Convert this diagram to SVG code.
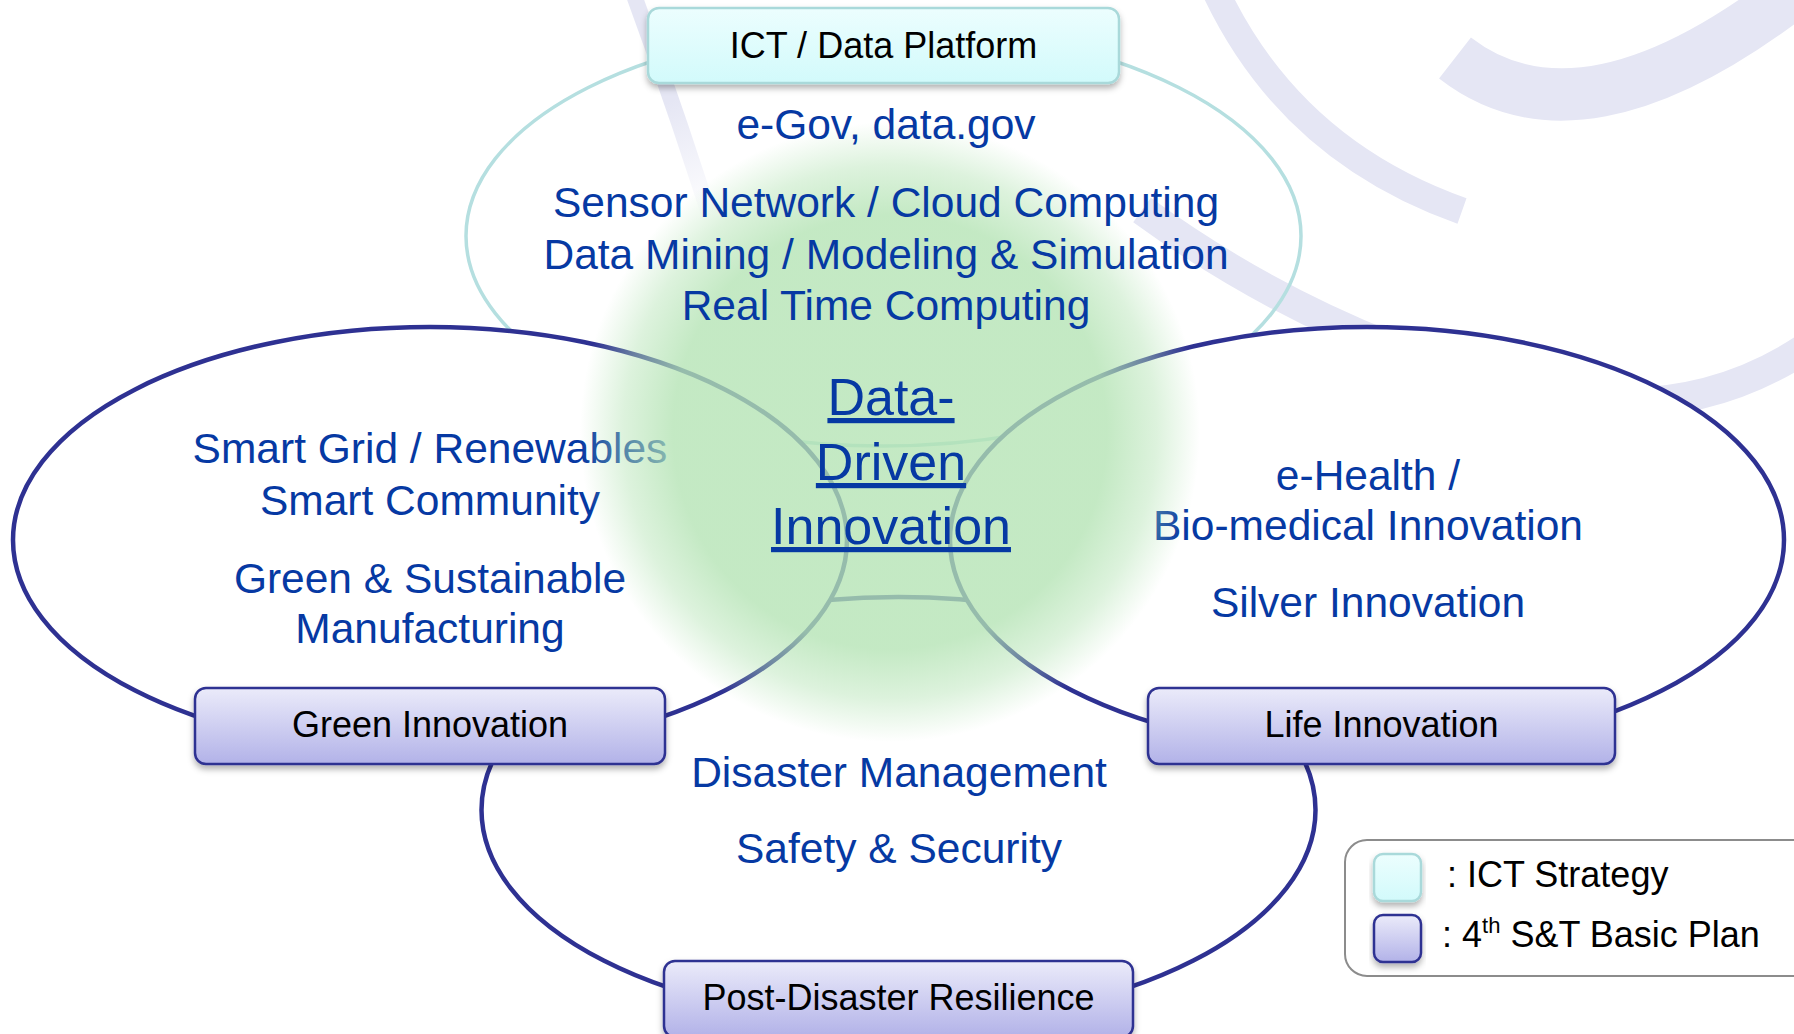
<svg xmlns="http://www.w3.org/2000/svg" width="1794" height="1034" viewBox="0 0 1794 1034">
<style>
.bg{fill:none;stroke:#e5e6f4;stroke-linecap:butt}
.ell{fill:#ffffff;stroke:#2e3192;stroke-width:4.5}
.ict{fill:none;stroke:#b5dfe0;stroke-width:3.5}
.t{font-family:"Liberation Sans",Arial,sans-serif;font-size:42.5px;fill:#0639a3;text-anchor:middle}
.lbl{font-family:"Liberation Sans",Arial,sans-serif;font-size:36px;fill:#000;text-anchor:middle}
.big{font-family:"Liberation Sans",Arial,sans-serif;font-size:52px;fill:#0639a3;text-anchor:middle;text-decoration:underline}
.leg{font-family:"Liberation Sans",Arial,sans-serif;font-size:36px;fill:#000}
.boxp{fill:url(#gp);stroke:#2e3192;stroke-width:2.5}
.boxc{fill:url(#gc);stroke:#a9d9da;stroke-width:2.5}
</style>
<defs>
<linearGradient id="gp" x1="0" y1="0" x2="0" y2="1">
<stop offset="0" stop-color="#ebebfa"/>
<stop offset="1" stop-color="#b2b2e8"/>
</linearGradient>
<linearGradient id="gc" x1="0" y1="0" x2="0" y2="1">
<stop offset="0" stop-color="#ecfefe"/>
<stop offset="1" stop-color="#d2fafb"/>
</linearGradient>
<linearGradient id="fadeA" gradientUnits="userSpaceOnUse" x1="632" y1="0" x2="722" y2="255">
<stop offset="0" stop-color="#e5e6f4"/>
<stop offset="0.4" stop-color="#e5e6f4"/>
<stop offset="0.85" stop-color="#e5e6f4" stop-opacity="0"/>
</linearGradient>
<radialGradient id="blob" gradientUnits="userSpaceOnUse" cx="890" cy="432" r="310">
<stop offset="0" stop-color="#b3e3b3" stop-opacity="0.78"/>
<stop offset="0.7" stop-color="#b3e3b3" stop-opacity="0.78"/>
<stop offset="0.86" stop-color="#b3e3b3" stop-opacity="0.45"/>
<stop offset="1" stop-color="#b3e3b3" stop-opacity="0"/>
</radialGradient>
<filter id="sh" x="-10%" y="-20%" width="120%" height="160%">
<feDropShadow dx="0" dy="4" stdDeviation="3" flood-color="#000" flood-opacity="0.3"/>
</filter>
</defs>
<rect x="0" y="0" width="1794" height="1034" fill="#ffffff"/>
<g id="watermark">
<path fill="none" stroke="url(#fadeA)" stroke-width="16" d="M632,-10 Q680,120 722,255"/>
<path class="bg" stroke-width="27" d="M1215,-10 Q1290,150 1462,211"/>
<path class="bg" stroke-width="52" d="M1455,58 Q1580,155 1790,-5"/>
<path class="bg" stroke-width="30" d="M1142,210 Q1335,350 1560,398 Q1700,420 1810,345"/>
</g>
<g id="connectors">
<ellipse id="ict-ellipse" class="ict" cx="883.5" cy="236" rx="417.5" ry="210"/>
<ellipse id="disaster-ellipse" class="ell" cx="898.5" cy="810" rx="417" ry="213"/>
<ellipse id="green-ellipse" class="ell" cx="430" cy="540" rx="417" ry="213"/>
<ellipse id="life-ellipse" class="ell" cx="1367" cy="540" rx="417" ry="213"/>
</g>
<g id="green-content">
<text class="t" x="430" y="463">Smart Grid / Renewables</text>
<text class="t" x="430" y="515">Smart Community</text>
<text class="t" x="430" y="593">Green &amp; Sustainable</text>
<text class="t" x="430" y="643">Manufacturing</text>
</g>
<g id="life-content">
<text class="t" x="1368" y="490">e-Health /</text>
<text class="t" x="1368" y="540">Bio-medical Innovation</text>
<text class="t" x="1368" y="617">Silver Innovation</text>
</g>
<circle id="blob-circle" cx="890" cy="432" r="310" fill="url(#blob)"/>
<g id="ict-content">
<text class="t" x="886" y="139">e-Gov, data.gov</text>
<text class="t" x="886" y="217">Sensor Network / Cloud Computing</text>
<text class="t" x="886" y="269">Data Mining / Modeling &amp; Simulation</text>
<text class="t" x="886" y="320">Real Time Computing</text>
</g>
<g id="center">
<text class="big" x="891" y="415">Data-</text>
<text class="big" x="891" y="480">Driven</text>
<text class="big" x="891" y="544">Innovation</text>
</g>
<g id="disaster-content">
<text class="t" x="899" y="787">Disaster Management</text>
<text class="t" x="899" y="863">Safety &amp; Security</text>
</g>
<g id="ict-box">
<rect class="boxc" filter="url(#sh)" x="648" y="8" width="471" height="75" rx="11"/>
<text class="lbl" x="883.5" y="58">ICT / Data Platform</text>
</g>
<g id="green-box">
<rect class="boxp" filter="url(#sh)" x="195" y="688" width="470" height="76" rx="11"/>
<text class="lbl" x="430" y="737">Green Innovation</text>
</g>
<g id="life-box">
<rect class="boxp" filter="url(#sh)" x="1148" y="688" width="467" height="76" rx="11"/>
<text class="lbl" x="1381.5" y="737">Life Innovation</text>
</g>
<g id="disaster-box">
<rect class="boxp" filter="url(#sh)" x="664" y="961" width="469" height="76" rx="11"/>
<text class="lbl" x="898.5" y="1010">Post-Disaster Resilience</text>
</g>
<g id="legend">
<rect x="1345" y="840" width="470" height="136" rx="22" fill="#ffffff" stroke="#8c8c8c" stroke-width="2"/>
<rect class="boxc" filter="url(#sh)" x="1374" y="854" width="47" height="47" rx="9"/>
<rect class="boxp" filter="url(#sh)" x="1374" y="915" width="47" height="47" rx="9"/>
<text class="leg" x="1447" y="887">: ICT Strategy</text>
<text class="leg" x="1442" y="947">: 4<tspan font-size="22" dy="-14">th</tspan><tspan dy="14"> S&amp;T Basic Plan</tspan></text>
</g>
</svg>
